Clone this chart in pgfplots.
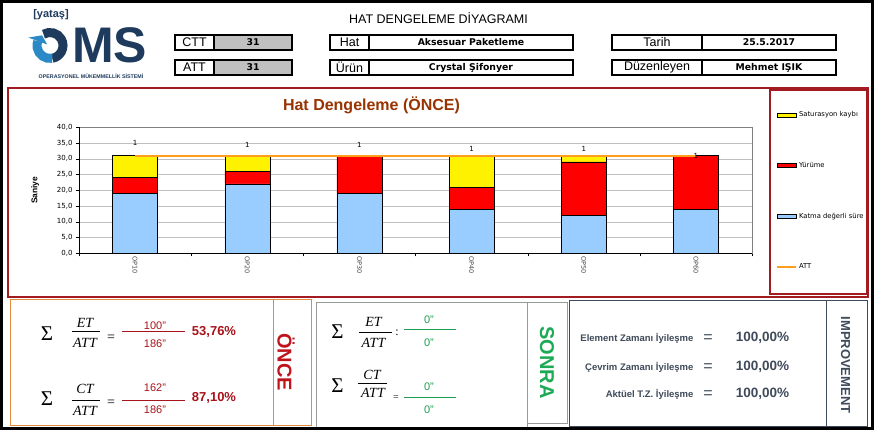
\documentclass[border=0pt]{standalone}
\usepackage{pgfplots}
\pgfplotsset{compat=1.18}
\usepackage{fontspec}
\setmainfont{Liberation Sans}
\newfontfamily\serif{Liberation Serif}
\newfontfamily\dv{DejaVu Sans}

\definecolor{navy}{HTML}{1E3A5C}
\definecolor{logoblue}{HTML}{2B8AC6}
\definecolor{boxgray}{HTML}{C0C0C0}
\definecolor{framered}{HTML}{A11B20}
\definecolor{titlebrown}{HTML}{993300}
\definecolor{barblue}{HTML}{99CCFF}
\definecolor{attc}{HTML}{FF9F1C}
\definecolor{valred}{HTML}{A8141C}
\definecolor{oncered}{HTML}{C0141C}
\definecolor{sonragreen}{HTML}{1DAA55}
\definecolor{valgreen}{HTML}{1E9E50}
\definecolor{orangeb}{HTML}{E28A3E}
\definecolor{impgray}{HTML}{3F4A5A}

\newcommand{\fs}[1]{\fontsize{#1}{#1}\selectfont}
% label cell + value cell, 15pt high
\newcommand{\infobox}[7]{%
  \fill[#7] (#2,#4) rectangle (#3,#4-15);
  \draw[line width=1.8pt] (#1,#4) rectangle (#3,#4-15) (#2,#4) -- (#2,#4-15);
  \node[font=\fs{12.5}] at ({(#1+#2)/2},#4-7.5) {#5};
  \node[font=\dv\bfseries\fs{9.3}] at ({(#2+#3)/2},#4-7.5) {#6};}

\pgfplotsset{chartarea/.style={at={(79pt,176.7pt)}, anchor=south west,
  scale only axis, width=673pt, height=126pt,
  xmin=0.5, xmax=6.5, ymin=0, ymax=40}}

\begin{document}
\begin{tikzpicture}[x=1pt,y=1pt]
\useasboundingbox (0,0) rectangle (874,430);
\fill[white] (0,0) rectangle (874,430);

% logo
\node[navy, font=\bfseries\fs{11}] at (51,415) {[yataş]};
\draw[navy, line width=9pt] (50,384.5) ++(120:13) arc[start angle=120, end angle=-80, radius=13];
\draw[logoblue, line width=9pt] (50,384.5) ++(-80:13) arc[start angle=-80, end angle=-200, radius=13];
\fill[logoblue] (47.2,385.5) -- (28.4,392.4) -- (42,394.7) -- cycle;
\node[navy, font=\bfseries\fs{50}, anchor=base west, inner sep=0pt] at (72,367) {MS};
\node[navy, font=\bfseries\fs{5.3}] at (91,354) {OPERASYONEL MÜKEMMELLİK SİSTEMİ};

% header
\node[font=\fs{12.5}] at (438.5,412) {HAT DENGELEME DİYAGRAMI};
\infobox{175}{214}{292}{395}{CTT}{31}{boxgray}
\infobox{175}{214}{292}{370}{ATT}{31}{boxgray}
\infobox{330}{369}{573}{395}{Hat}{Aksesuar Paketleme}{white}
\infobox{330}{369}{573}{370}{Ürün}{Crystal Şifonyer}{white}
\infobox{612}{702}{836}{395}{Tarih}{25.5.2017}{white}
\infobox{612}{702}{836}{370}{Düzenleyen}{Mehmet IŞIK}{white}

% chart panel
\draw[framered, line width=2.5pt] (8,133) rectangle (868,342);
\draw[framered, line width=2.5pt] (770,136) rectangle (867,340);
\node[titlebrown, font=\bfseries\fs{16}] at (371.5,325) {Hat Dengeleme (ÖNCE)};

\begin{axis}[
  chartarea,
  ybar stacked, bar width=45pt,
  xtick={0.5,1.5,...,6.5}, xticklabels={},
  extra x ticks={1,2,3,4,5,6},
  extra x tick labels={OP10,OP20,OP30,OP40,OP50,OP60},
  extra x tick style={major tick length=0pt},
  xticklabel style={rotate=-90, anchor=west, font=\dv\fs{6.5}, text=black!70},
  ytick={0,5,...,40},
  yticklabel style={font=\dv\fs{7}, /pgf/number format/.cd, fixed, fixed zerofill, precision=1, use comma, assume math mode=true},
  ymajorgrids, grid style={black!25},
  tick align=outside, xtick pos=bottom, ytick pos=left,
  major tick length=3pt, tick style={black},
  axis line style={black!50},
  ylabel={Saniye},
  ylabel style={font=\bfseries\fs{8.4}, at={(axis description cs:-0.065,0.5)}, anchor=center},
  legend style={at={(1.0357,1.141)}, anchor=north west, draw=none, fill=none,
    inner sep=0pt, row sep=40pt, font=\dv\fs{6.8}, cells={anchor=west}},
  legend entries={Saturasyon kaybı, Yürüme, Katma değerli süre, ATT},
]
\addlegendimage{legend image code/.code={\draw[fill=yellow, draw=black, line width=0.6pt] (0pt,-2pt) rectangle (19pt,2pt);}}
\addlegendimage{legend image code/.code={\draw[fill=red, draw=black, line width=0.6pt] (0pt,-2pt) rectangle (19pt,2pt);}}
\addlegendimage{legend image code/.code={\draw[fill=barblue, draw=black, line width=0.6pt] (0pt,-2pt) rectangle (19pt,2pt);}}
\addlegendimage{legend image code/.code={\draw[attc, line width=1.8pt] (0pt,0pt) -- (19pt,0pt);}}

% Katma degerli sure
\addplot[fill=barblue, draw=black, line width=0.5pt, forget plot] coordinates {
  (1,19) (2,22) (3,19) (4,14) (5,12) (6,14)};
% Yurume
\addplot[fill=red, draw=black, line width=0.5pt, forget plot] coordinates {
  (1,5) (2,4) (3,12) (4,7) (5,17) (6,17)};
% Saturasyon kaybi
\addplot[fill=yellow, draw=black, line width=0.5pt, forget plot] coordinates {
  (1,7) (2,5) (3,0) (4,10) (5,2) (6,0)};
\draw[black, line width=0.6pt] (rel axis cs:0,1) -- (rel axis cs:0,0) -- (rel axis cs:1,0);
\end{axis}

% ATT line and data labels on the same area, not stacked
\begin{axis}[chartarea, hide axis]
\addplot[attc, line width=1.8pt, mark=none] coordinates {(1,31) (6,31)};
\addplot[draw=none, mark=none, nodes near coords, point meta=explicit symbolic,
  every node near coord/.append style={font=\dv\fs{7}, inner sep=0pt, text=black}] coordinates {
  (1,34.0)[1] (2,33.6)[1] (3,33.6)[1] (4,32.3)[1] (5,32.3)[1] (6,29.9)[1]};
\end{axis}

% ONCE box
\draw[orangeb, line width=1pt] (10,4) rectangle (311,130) (273,4) -- (273,130);
\node[font=\serif\fs{21}] at (47,96) {Σ};
\node[font=\serif\itshape\fs{14}] at (85,107) {ET};
\node[font=\serif\itshape\fs{14}] at (85,87) {ATT};
\draw[line width=0.6pt] (72,98.3) -- (100,98.3);
\node[font=\serif\fs{14}] at (111,92) {=};
\draw[valred, line width=0.8pt] (122,98.3) -- (185,98.3);
\node[valred, font=\fs{11}] at (155,104) {100"};
\node[valred, font=\fs{11}] at (155,86) {186"};
\node[valred, font=\bfseries\fs{13}] at (214,98) {53,76\%};
\node[font=\serif\fs{21}] at (47,31.5) {Σ};
\node[font=\serif\itshape\fs{14}] at (85,41) {CT};
\node[font=\serif\itshape\fs{14}] at (85,19.5) {ATT};
\draw[line width=0.6pt] (72,30) -- (100,30);
\node[font=\serif\fs{14}] at (111,27) {=};
\draw[valred, line width=0.8pt] (122,30) -- (185,30);
\node[valred, font=\fs{11}] at (155,42.5) {162"};
\node[valred, font=\fs{11}] at (155,20) {186"};
\node[valred, font=\bfseries\fs{13}] at (214,32) {87,10\%};
\node[rotate=-90, font=\bfseries\fs{20}, text=oncered] at (286,68) {ÖNCE};

% SONRA box
\draw[black!40, line width=0.8pt] (316,3) rectangle (527,128);
\node[font=\serif\fs{21}] at (337.5,98.5) {Σ};
\node[font=\serif\itshape\fs{14}] at (373.5,108) {ET};
\node[font=\serif\itshape\fs{14}] at (373.5,87) {ATT};
\draw[line width=0.6pt] (359,98) -- (392,98);
\node[font=\serif\fs{12}] at (397,97) {:};
\draw[valgreen, line width=0.8pt] (404,101) -- (456,101);
\node[valgreen, font=\fs{11}] at (429,110) {0"};
\node[valgreen, font=\fs{11}] at (429,87) {0"};
\node[font=\serif\fs{21}] at (337.5,44.5) {Σ};
\node[font=\serif\itshape\fs{14}] at (372,55) {CT};
\node[font=\serif\itshape\fs{14}] at (373,37) {ATT};
\draw[line width=0.6pt] (358,47) -- (387,47);
\node[font=\serif\fs{10}] at (396,32) {=};
\draw[valgreen, line width=0.8pt] (404,33) -- (456,33);
\node[valgreen, font=\fs{11}] at (429,43) {0"};
\node[valgreen, font=\fs{11}] at (429,20) {0"};
\draw[black!40, fill=white, line width=0.8pt] (527,7) rectangle (567,128);
\node[rotate=-90, font=\bfseries\fs{20}, text=sonragreen] at (547,67.5) {SONRA};

% IMPROVEMENT box
\draw[impgray, line width=1pt] (569,3) rectangle (867,129) (826,3) -- (826,129);
\node[anchor=east, font=\bfseries\fs{9.5}, text=impgray] at (697,92) {Element Zamanı İyileşme};
\node[anchor=east, font=\bfseries\fs{9.5}, text=impgray] at (697,63) {Çevrim Zamanı İyileşme};
\node[anchor=east, font=\bfseries\fs{9.5}, text=impgray] at (697,36) {Aktüel T.Z. İyileşme};
\foreach \yy in {91,62,35} {\node[font=\fs{16}, text=impgray] at (708,\yy) {=};}
\node[font=\bfseries\fs{13.5}, text=impgray] at (762.5,92) {100,00\%};
\node[font=\bfseries\fs{13.5}, text=impgray] at (762.5,63) {100,00\%};
\node[font=\bfseries\fs{13.5}, text=impgray] at (762.5,36) {100,00\%};
\node[rotate=-90, font=\bfseries\fs{13}, text=impgray] at (845.5,65) {IMPROVEMENT};

\draw[line width=3pt] (1.5,1.5) rectangle (872.5,428.5);
\end{tikzpicture}
\end{document}
